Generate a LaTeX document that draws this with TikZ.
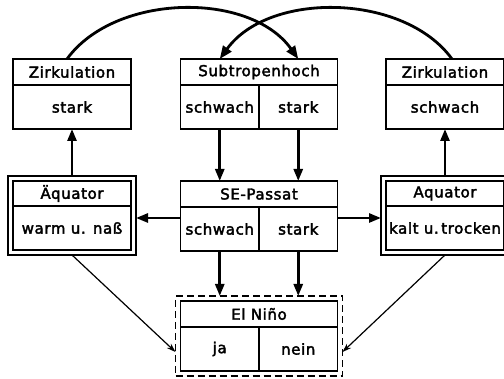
\documentclass[tikz,border=0pt]{standalone}
\usepackage{fontspec}
\setmainfont{DejaVu Sans}[LetterSpace=4, FakeBold=2.5]
\usetikzlibrary{arrows.meta, positioning, fit}

\tikzset{
  kopf/.style={draw, line width=1.8pt, minimum height=26pt, inner sep=0pt, outer sep=0pt, anchor=north},
  zelle/.style={draw, line width=1.8pt, minimum height=44pt, inner sep=0pt, outer sep=0pt, anchor=north west},
  rahmen/.style={draw, line width=1.8pt, inner sep=5pt, outer sep=0pt},
  pfeil/.style={-{Triangle[length=12pt,width=9pt]}, line width=2.6pt},
  duenn/.style={-{Stealth[length=9pt,width=6pt]}, line width=1.2pt},
  bogen/.style={-{Triangle[length=13pt,width=10pt]}, line width=2.8pt}
}

\begin{document}
\begin{tikzpicture}[x=1pt, y=1pt, font=\fontsize{15}{18}\selectfont]
        \useasboundingbox (0,0) rectangle (504,379);

        % Zirkulation links
        \node[kopf, minimum width=118pt] (zl) at (72,320) {Zirkulation};
        \node[zelle, minimum width=118pt] (zlb) at (zl.south west) {stark};

        % Subtropenhoch
        \node[kopf, minimum width=157pt] (st) at (259,320) {Subtropenhoch};
        \node[zelle, minimum width=78.5pt] (sts) at (st.south west) {schwach};
        \node[zelle, minimum width=78.5pt] (stk) at (sts.north east) {stark};

        % Zirkulation rechts
        \node[kopf, minimum width=118pt] (zr) at (445,320) {Zirkulation};
        \node[zelle, minimum width=118pt] (zrb) at (zr.south west) {schwach};

        % Aequator links
        \node[kopf, minimum width=118pt, minimum height=25pt] (al) at (72,198) {Äquator};
        \node[zelle, minimum width=118pt] (alb) at (al.south west) {warm u. naß};
        \node[rahmen, fit=(al)(alb)] (alr) {};

        % SE-Passat
        \node[kopf, minimum width=157pt] (sp) at (259,198) {SE-Passat};
        \node[zelle, minimum width=78.5pt] (sps) at (sp.south west) {schwach};
        \node[zelle, minimum width=78.5pt] (spk) at (sps.north east) {stark};

        % Aequator rechts
        \node[kopf, minimum width=118pt, minimum height=25pt] (ar) at (445,198) {Aquator};
        \node[zelle, minimum width=118pt] (arb) at (ar.south west) {kalt u.\,trocken};
        \node[rahmen, fit=(ar)(arb)] (arr) {};

        % El Nino
        \node[kopf, minimum width=157pt] (en) at (259,78) {El Niño};
        \node[zelle, minimum width=78.5pt] (enj) at (en.south west) {ja};
        \node[zelle, minimum width=78.5pt] (enn) at (enj.north east) {nein};
        \node[rahmen, dashed, dash pattern=on 7pt off 4pt, fit=(en)(enj)(enn)] (enr) {};

        % Boegen oben
        \draw[bogen] ([xshift=-5pt]zl.north) .. controls (115,386) and (250,388) .. (stk.north |- st.north);
        \draw[bogen] ([xshift=7pt]zr.north) .. controls (404,386) and (269,388) .. (sts.north |- st.north);

        % dicke Pfeile
        \draw[pfeil] (sts.south) -- (sts.south |- sp.north);
        \draw[pfeil] (stk.south) -- (stk.south |- sp.north);
        \draw[pfeil] (sps.south) -- (sps.south |- enr.north);
        \draw[pfeil] (spk.south) -- (spk.south |- enr.north);
        \draw[pfeil] (alr.north) -- (zlb.south);
        \draw[pfeil] (arr.north) -- (zrb.south);
        \draw[pfeil] ([yshift=11pt]sps.west) -- ([yshift=11pt]sps.west -| alr.east);
        \draw[pfeil] ([yshift=11pt]spk.east) -- ([yshift=11pt]spk.east -| arr.west);

        % duenne Pfeile
        \draw[duenn] (alr.south) -- ([yshift=-16pt]enr.west);
        \draw[duenn] (arr.south) -- ([yshift=-16pt]enr.east);
    \end{tikzpicture}
\end{document}
